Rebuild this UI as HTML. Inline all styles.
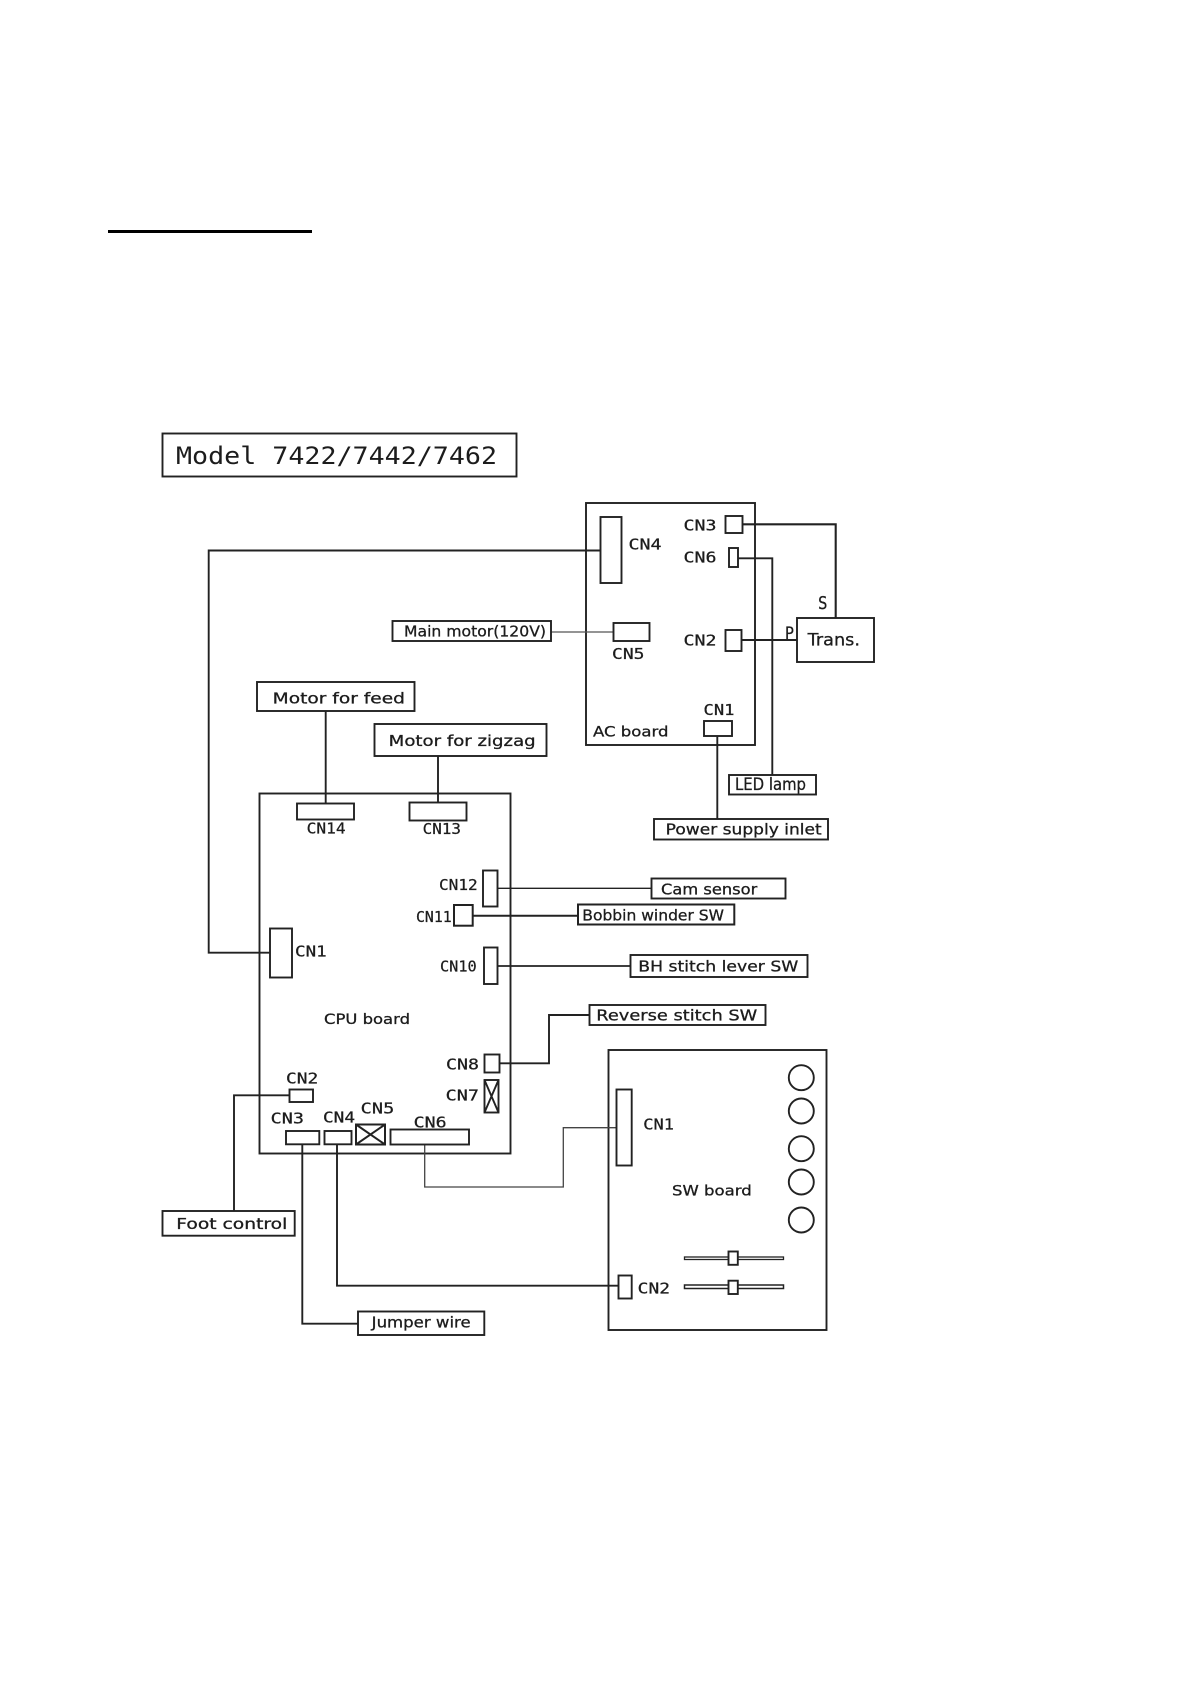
<!DOCTYPE html>
<html><head><meta charset="utf-8"><style>
html,body{margin:0;padding:0;background:#fff}
svg{display:block}
text{font-family:"DejaVu Sans Mono","Liberation Mono",monospace;fill:#1c1c1c;stroke:#1c1c1c;stroke-width:.25;font-size:15px}
.l{font-family:"DejaVu Sans","Liberation Sans",sans-serif;font-size:15.5px;stroke-width:.3}
.b{font-family:"DejaVu Sans","Liberation Sans",sans-serif;font-size:14.5px;stroke-width:.3}
rect,circle,path,line{fill:none;stroke:#222;stroke-width:1.9}
rect,circle{fill:#fff}
</style></head><body>
<svg width="1190" height="1684" viewBox="0 0 1190 1684" xmlns="http://www.w3.org/2000/svg">
<rect x="108" y="230" width="204" height="3" style="fill:#000;stroke:none"/>
<rect x="162.5" y="433.5" width="354" height="43"/>
<text x="176" y="464" style="font-size:24px;stroke:none" textLength="321" lengthAdjust="spacingAndGlyphs">Model 7422/7442/7462</text>

<!-- boards -->
<rect x="586" y="503" width="169" height="242"/>
<rect x="259.5" y="793.5" width="251" height="360"/>
<rect x="608.5" y="1050" width="218" height="280"/>

<!-- wires -->
<path d="M600 550.5H208.7V952.7H270"/>
<path d="M742 524.3H835.7V618" style="stroke-width:2.1"/>
<path d="M738 558.3H772.3V775"/>
<path d="M741 640H797" style="stroke-width:2.1"/>
<path d="M717.3 736V819"/>
<path d="M551 632H613.5" style="stroke:#555;stroke-width:1.2"/>
<path d="M325.7 711V803"/>
<path d="M438 755.7V802"/>
<path d="M497 888.3H651.5" style="stroke-width:1.4"/>
<path d="M472 915.7H578" style="stroke-width:2"/>
<path d="M497 966H630.5" style="stroke-width:1.8"/>
<path d="M589.5 1015H549V1063.3H499" style="stroke-width:1.9"/>
<path d="M289.5 1095.3H234V1211"/>
<path d="M302.3 1144V1323.7H358"/>
<path d="M337 1144V1285.7H618.5"/>
<path d="M424.7 1144V1187H563.3V1127.7H616.5" style="stroke-width:1.3;stroke:#444"/>

<!-- AC board connectors -->
<rect x="600.5" y="517" width="21" height="66"/>
<rect x="725.5" y="516" width="17" height="17"/>
<rect x="729" y="548" width="9" height="19"/>
<rect x="613.5" y="623" width="36" height="18"/>
<rect x="725.5" y="630" width="16" height="21"/>
<rect x="704" y="721" width="28" height="15"/>
<rect x="797" y="618" width="77" height="44"/>
<rect x="729" y="775" width="87" height="19.5"/>
<rect x="654" y="819" width="174" height="20.5"/>
<rect x="392.5" y="621" width="158.5" height="20"/>

<text x="683.5" y="530.7" textLength="33" lengthAdjust="spacingAndGlyphs">CN3</text>
<text x="683.5" y="562.3" textLength="33" lengthAdjust="spacingAndGlyphs">CN6</text>
<text x="628.5" y="549.3" textLength="33" lengthAdjust="spacingAndGlyphs">CN4</text>
<text x="683.5" y="645.7" textLength="33" lengthAdjust="spacingAndGlyphs">CN2</text>
<text x="612" y="659" textLength="32.5" lengthAdjust="spacingAndGlyphs">CN5</text>
<text x="703.5" y="715" textLength="31" lengthAdjust="spacingAndGlyphs">CN1</text>
<text class="b" x="593" y="736.7" textLength="75.5" lengthAdjust="spacingAndGlyphs">AC board</text>
<text x="818" y="609" style="font-size:18px" textLength="9.5" lengthAdjust="spacingAndGlyphs">S</text>
<text x="785" y="639" style="font-size:17px" textLength="9" lengthAdjust="spacingAndGlyphs">P</text>
<text class="l" x="807.7" y="645.7" style="font-size:17px" textLength="52.3" lengthAdjust="spacingAndGlyphs">Trans.</text>
<text class="l" x="735" y="790" style="font-size:17px" textLength="71" lengthAdjust="spacingAndGlyphs">LED lamp</text>
<text class="l" x="665.7" y="834.3" textLength="156" lengthAdjust="spacingAndGlyphs">Power supply inlet</text>
<text class="l" x="404" y="636.7" textLength="142" lengthAdjust="spacingAndGlyphs">Main motor(120V)</text>

<!-- motors -->
<rect x="257" y="682" width="157.5" height="29"/>
<text class="l" x="272.7" y="703.7" textLength="132.3" lengthAdjust="spacingAndGlyphs">Motor for feed</text>
<rect x="374.5" y="724" width="172" height="32"/>
<text class="l" x="388.7" y="746" textLength="147" lengthAdjust="spacingAndGlyphs">Motor for zigzag</text>

<!-- CPU connectors -->
<rect x="297" y="803.5" width="57" height="16"/>
<rect x="409.5" y="802.5" width="57" height="18"/>
<text x="306.7" y="833.3" textLength="39" lengthAdjust="spacingAndGlyphs">CN14</text>
<text x="422.7" y="834" textLength="38.3" lengthAdjust="spacingAndGlyphs">CN13</text>
<rect x="483" y="870.5" width="14.5" height="36"/>
<rect x="454" y="905" width="18.7" height="20.7" style="stroke-width:2"/>
<rect x="484" y="947.5" width="13.5" height="36.5"/>
<rect x="270" y="928.5" width="22" height="49"/>
<text x="439" y="890" textLength="38.7" lengthAdjust="spacingAndGlyphs">CN12</text>
<text x="416" y="922" textLength="35.7" lengthAdjust="spacingAndGlyphs">CN11</text>
<text x="440" y="971.3" textLength="36.7" lengthAdjust="spacingAndGlyphs">CN10</text>
<text x="295" y="956.7" textLength="31.7" lengthAdjust="spacingAndGlyphs">CN1</text>
<text class="b" x="324" y="1024" textLength="86" lengthAdjust="spacingAndGlyphs">CPU board</text>

<rect x="484.5" y="1054.5" width="15" height="18"/>
<text x="446" y="1069.3" textLength="33" lengthAdjust="spacingAndGlyphs">CN8</text>
<rect x="484.5" y="1080" width="14" height="32.5"/>
<path d="M484.5 1080L498.5 1112.5M498.5 1080L484.5 1112.5"/>
<text x="445.7" y="1100.3" textLength="33.3" lengthAdjust="spacingAndGlyphs">CN7</text>
<rect x="289.5" y="1089.5" width="23.5" height="12.5"/>
<text x="286" y="1083.3" textLength="32.3" lengthAdjust="spacingAndGlyphs">CN2</text>
<rect x="286" y="1131" width="33.3" height="13.3"/>
<text x="270.7" y="1123.3" textLength="33.3" lengthAdjust="spacingAndGlyphs">CN3</text>
<rect x="324.5" y="1131" width="27" height="13.3"/>
<text x="323" y="1122.7" textLength="32" lengthAdjust="spacingAndGlyphs">CN4</text>
<rect x="356" y="1124.5" width="29" height="20" style="stroke-width:2"/>
<path d="M356 1124.5L385 1144.5M385 1124.5L356 1144.5" style="stroke-width:2"/>
<text x="360.7" y="1113.3" textLength="33.6" lengthAdjust="spacingAndGlyphs">CN5</text>
<rect x="390.5" y="1129.5" width="78.5" height="15"/>
<text x="413.7" y="1127.3" textLength="33" lengthAdjust="spacingAndGlyphs">CN6</text>

<!-- right labels -->
<rect x="651.5" y="878.5" width="134" height="20"/>
<text class="l" x="661" y="894.3" textLength="96.3" lengthAdjust="spacingAndGlyphs">Cam sensor</text>
<rect x="578" y="904.5" width="156.3" height="20" style="stroke-width:2"/>
<text class="l" x="582.3" y="920.7" textLength="141.7" lengthAdjust="spacingAndGlyphs">Bobbin winder SW</text>
<rect x="630.5" y="955" width="177" height="22"/>
<text class="l" x="638.3" y="971.7" textLength="160" lengthAdjust="spacingAndGlyphs">BH stitch lever SW</text>
<rect x="589.5" y="1005" width="176" height="20"/>
<text class="l" x="596.3" y="1020.7" textLength="161" lengthAdjust="spacingAndGlyphs">Reverse stitch SW</text>

<!-- left labels -->
<rect x="162.5" y="1211" width="132.2" height="24.7"/>
<text class="l" x="176.3" y="1229" textLength="111" lengthAdjust="spacingAndGlyphs">Foot control</text>
<rect x="358" y="1311.5" width="126.3" height="23.5"/>
<text class="l" x="371.7" y="1327.3" textLength="99" lengthAdjust="spacingAndGlyphs">Jumper wire</text>

<!-- SW board contents -->
<rect x="616.5" y="1089.5" width="15.2" height="76"/>
<text x="643.3" y="1129.7" textLength="30.7" lengthAdjust="spacingAndGlyphs">CN1</text>
<rect x="618.5" y="1275.5" width="13.2" height="23"/>
<text x="637.7" y="1293.3" textLength="32.3" lengthAdjust="spacingAndGlyphs">CN2</text>
<text class="b" x="672" y="1195.7" textLength="79.7" lengthAdjust="spacingAndGlyphs">SW board</text>
<circle cx="801.3" cy="1077.7" r="12.5"/>
<circle cx="801.3" cy="1111" r="12.5"/>
<circle cx="801.3" cy="1148.7" r="12.5"/>
<circle cx="801.3" cy="1182" r="12.5"/>
<circle cx="801.3" cy="1220" r="12.5"/>
<rect x="684.5" y="1257" width="99" height="2.5" style="stroke-width:1.3"/>
<rect x="684.5" y="1285" width="99" height="3.5" style="stroke-width:1.5"/>
<rect x="728.5" y="1251.5" width="9.3" height="13.3"/>
<rect x="728.5" y="1280.7" width="9.3" height="13.3"/>
</svg>
</body></html>
